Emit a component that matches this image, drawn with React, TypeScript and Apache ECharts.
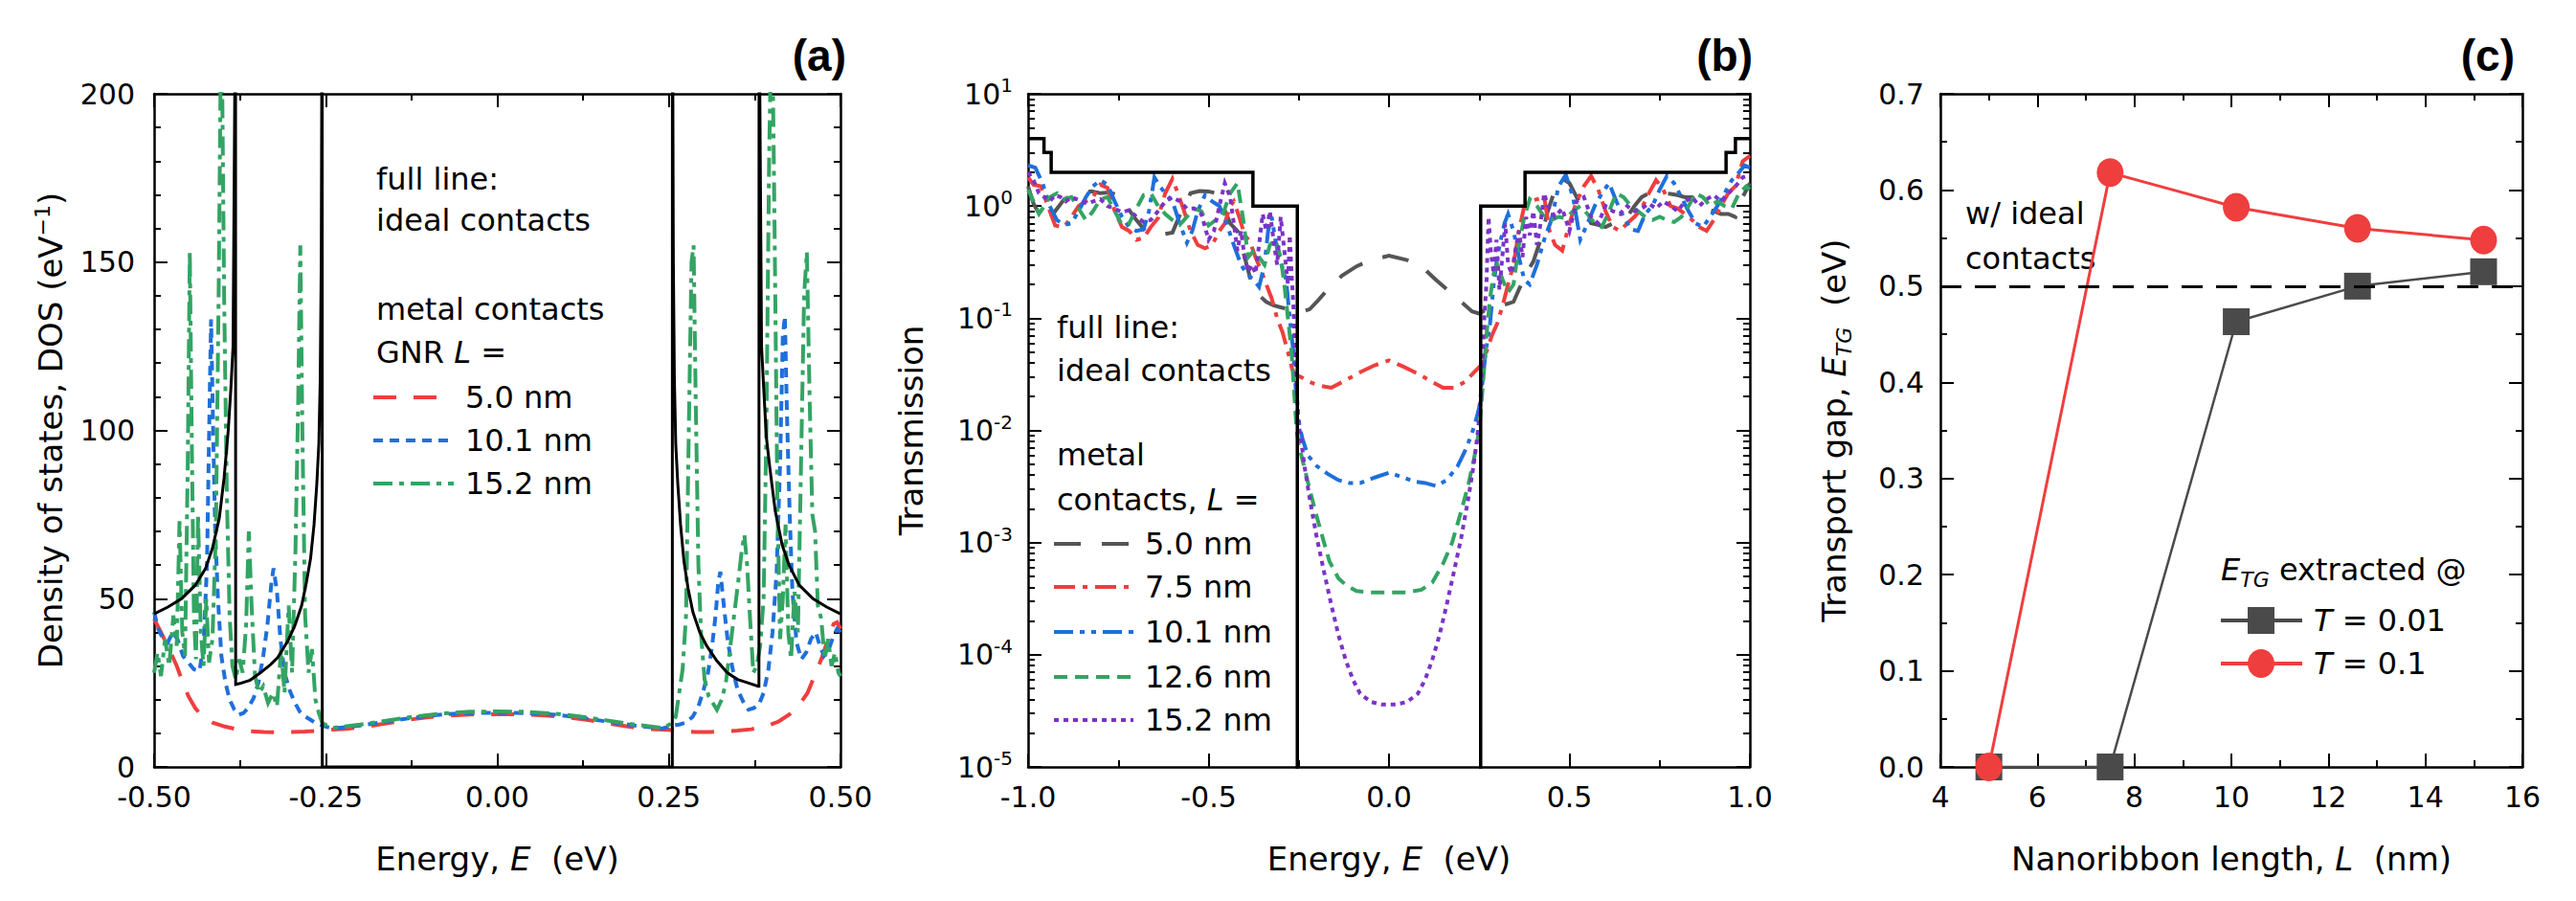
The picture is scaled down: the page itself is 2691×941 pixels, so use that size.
import React, { useEffect, useRef } from "react";
import * as echarts from "echarts";

const FONT = '"DejaVu Sans", "Liberation Sans", sans-serif';
const BOLD_FONT = '"Liberation Sans", Arial, sans-serif';

// ---------------- Panel (a): DOS vs energy ----------------
const aIdeal: [number, number][] = [
  [-0.5, 45.5], [-0.48, 47.5], [-0.46, 50], [-0.44, 54], [-0.425, 59], [-0.415, 65], [-0.405, 74], [-0.398, 86],
  [-0.392, 100], [-0.388, 113], [-0.385, 125], [-0.3825, 200], [-0.3815, 400], [-0.3812, 24.5],
  [-0.375, 24.8], [-0.36, 25.8], [-0.345, 28], [-0.33, 30.5], [-0.32, 32.5], [-0.305, 37.5], [-0.295, 42],
  [-0.285, 48], [-0.278, 55], [-0.272, 62], [-0.267, 72], [-0.263, 84], [-0.26, 96], [-0.258, 115],
  [-0.2565, 150], [-0.2555, 220], [-0.2552, 400], [-0.255, 0],
  [0.255, 0], [0.2552, 400], [0.2555, 220], [0.2565, 150], [0.258, 115], [0.26, 96], [0.263, 84], [0.267, 72],
  [0.272, 61], [0.278, 53], [0.285, 46], [0.295, 40], [0.305, 36], [0.32, 31.5], [0.335, 28], [0.35, 26],
  [0.365, 25], [0.38, 24], [0.3812, 24], [0.3815, 400], [0.3825, 200], [0.385, 125], [0.388, 113],
  [0.392, 98], [0.397, 89], [0.405, 76], [0.415, 66], [0.425, 60], [0.44, 54], [0.46, 50], [0.48, 47.5], [0.5, 45.5],
];

const aRed5: [number, number][] = [
  [-0.5, 44], [-0.49, 40], [-0.478, 35], [-0.467, 30], [-0.458, 25], [-0.45, 21], [-0.44, 17.5], [-0.43, 15],
  [-0.415, 13.2], [-0.397, 12], [-0.38, 11.2], [-0.36, 10.6], [-0.34, 10.4], [-0.32, 10.3], [-0.3, 10.4],
  [-0.28, 10.5], [-0.265, 10.7], [-0.25, 11],
  [-0.22, 11.3], [-0.19, 12], [-0.16, 13], [-0.13, 14], [-0.1, 14.8], [-0.07, 15.3], [-0.04, 15.6], [0, 15.7],
  [0.04, 15.6], [0.07, 15.3], [0.1, 14.8], [0.13, 14], [0.16, 13], [0.19, 12], [0.22, 11.3],
  [0.25, 11], [0.27, 10.6], [0.29, 10.4], [0.31, 10.4], [0.33, 10.5], [0.35, 10.8], [0.37, 11.2], [0.39, 12],
  [0.41, 13.5], [0.425, 15.5], [0.44, 18.5], [0.452, 22], [0.462, 27], [0.472, 32], [0.482, 38], [0.49, 42.5],
  [0.495, 43], [0.5, 41],
];

const aBlue10: [number, number][] = [
  [-0.5, 46], [-0.494, 41], [-0.487, 38], [-0.48, 37], [-0.473, 40], [-0.466, 38], [-0.458, 33], [-0.45, 31],
  [-0.442, 29], [-0.434, 28.5], [-0.428, 36], [-0.423, 60], [-0.419, 110], [-0.417, 133], [-0.414, 100],
  [-0.411, 70], [-0.407, 50], [-0.402, 33], [-0.396, 25], [-0.39, 20], [-0.383, 17], [-0.377, 15.5],
  [-0.37, 16], [-0.363, 17.5], [-0.355, 20.5], [-0.348, 25], [-0.341, 33], [-0.335, 42], [-0.329, 55],
  [-0.326, 59], [-0.321, 52], [-0.316, 38], [-0.31, 28], [-0.303, 23], [-0.296, 19.5], [-0.288, 16.5],
  [-0.28, 15], [-0.272, 14], [-0.264, 13], [-0.255, 12.3],
  [-0.24, 11.4], [-0.2, 12.3], [-0.16, 13.5], [-0.12, 14.7], [-0.08, 15.6], [-0.04, 16], [0, 16.1],
  [0.04, 16], [0.08, 15.6], [0.12, 14.7], [0.16, 13.5], [0.2, 12.3], [0.24, 11.4],
  [0.255, 12.3], [0.265, 12.6], [0.275, 13.2], [0.285, 15], [0.293, 18], [0.3, 22.5], [0.307, 28],
  [0.313, 36], [0.318, 45], [0.322, 55], [0.325, 58], [0.33, 48], [0.336, 37], [0.343, 29], [0.35, 23],
  [0.358, 19.5], [0.366, 17], [0.374, 17.5], [0.381, 18.5], [0.388, 22], [0.395, 29], [0.401, 40],
  [0.407, 58], [0.412, 90], [0.416, 128], [0.419, 134], [0.422, 105], [0.426, 75], [0.43, 52], [0.436, 37],
  [0.443, 32], [0.45, 34], [0.457, 38], [0.464, 40], [0.47, 36], [0.476, 33], [0.483, 35], [0.49, 39],
  [0.495, 41], [0.5, 40],
];

const aGreen15: [number, number][] = [
  [-0.5, 28], [-0.495, 34], [-0.49, 27], [-0.484, 38], [-0.478, 30], [-0.472, 45], [-0.467, 36], [-0.463, 73],
  [-0.459, 40], [-0.455, 33], [-0.451, 90], [-0.448, 153], [-0.445, 95], [-0.442, 45], [-0.439, 32],
  [-0.436, 75], [-0.432, 40], [-0.428, 30], [-0.424, 50], [-0.42, 31], [-0.415, 38], [-0.41, 70],
  [-0.406, 140], [-0.402, 230], [-0.398, 140], [-0.394, 80], [-0.39, 45], [-0.386, 30], [-0.381, 26],
  [-0.376, 32], [-0.371, 28], [-0.366, 42], [-0.362, 70], [-0.358, 48], [-0.353, 27], [-0.347, 22],
  [-0.341, 24], [-0.334, 19], [-0.327, 22], [-0.321, 18], [-0.315, 35], [-0.31, 22], [-0.304, 48],
  [-0.299, 28], [-0.294, 65], [-0.29, 110], [-0.287, 155], [-0.284, 100], [-0.28, 45], [-0.275, 28],
  [-0.27, 35], [-0.265, 20], [-0.26, 16], [-0.255, 13],
  [-0.24, 11.6], [-0.2, 12.6], [-0.16, 13.8], [-0.12, 15], [-0.08, 15.9], [-0.04, 16.4], [0, 16.5],
  [0.04, 16.4], [0.08, 15.9], [0.12, 15], [0.16, 13.8], [0.2, 12.6], [0.24, 11.6],
  [0.255, 13], [0.26, 15], [0.265, 22], [0.27, 29], [0.275, 45], [0.279, 100], [0.283, 150], [0.286, 155],
  [0.289, 110], [0.293, 60], [0.297, 39], [0.302, 26], [0.308, 21], [0.314, 19], [0.32, 17], [0.327, 20],
  [0.333, 25], [0.339, 35], [0.345, 45], [0.351, 55], [0.356, 64], [0.36, 69], [0.364, 60], [0.368, 45],
  [0.373, 28], [0.378, 30], [0.383, 36], [0.388, 50], [0.392, 100], [0.396, 180], [0.4, 230], [0.404, 160],
  [0.408, 80], [0.412, 38], [0.416, 50], [0.42, 72], [0.424, 40], [0.428, 32], [0.433, 52], [0.438, 40],
  [0.442, 84], [0.447, 140], [0.451, 153], [0.455, 110], [0.459, 75], [0.463, 70], [0.467, 48], [0.472, 44],
  [0.477, 32], [0.482, 38], [0.487, 30], [0.492, 34], [0.497, 28], [0.5, 27],
];

// ---------------- Panel (b): transmission vs energy ----------------
const bIdeal: [number, number][] = [
  [-1.0, 4], [-0.956, 4], [-0.956, 3], [-0.936, 3], [-0.936, 2], [-0.377, 2], [-0.377, 1], [-0.254, 1],
  [-0.254, 1e-7], [0.254, 1e-7], [0.254, 1], [0.377, 1], [0.377, 2], [0.934, 2], [0.934, 3], [0.96, 3],
  [0.96, 4], [1.0, 4],
];

const bGrey5: [number, number][] = [
  [-1.0, 1.5], [-0.985, 1.05], [-0.965, 0.8], [-0.945, 0.72], [-0.925, 0.9], [-0.9, 1.15], [-0.875, 1.25],
  [-0.85, 1.32], [-0.825, 1.35], [-0.8, 1.3], [-0.775, 1.32], [-0.75, 1.25], [-0.725, 0.97], [-0.7, 0.75],
  [-0.675, 0.6], [-0.65, 0.57], [-0.625, 0.56], [-0.6, 0.58], [-0.575, 0.9], [-0.55, 1.3], [-0.525, 1.36],
  [-0.5, 1.35], [-0.48, 1.3], [-0.46, 1.0], [-0.44, 0.7], [-0.42, 0.6], [-0.4, 0.35], [-0.38, 0.2],
  [-0.36, 0.16], [-0.34, 0.14], [-0.32, 0.13], [-0.3, 0.125], [-0.28, 0.12], [-0.26, 0.118],
  [-0.24, 0.115], [-0.22, 0.12], [-0.2, 0.14], [-0.17, 0.18], [-0.13, 0.24], [-0.09, 0.29], [-0.05, 0.33],
  [0, 0.36], [0.05, 0.33], [0.09, 0.29], [0.13, 0.22], [0.17, 0.17], [0.2, 0.14], [0.23, 0.115], [0.25, 0.11],
  [0.27, 0.12], [0.29, 0.125], [0.31, 0.13], [0.33, 0.135], [0.345, 0.14], [0.36, 0.18], [0.38, 0.25],
  [0.4, 0.32], [0.42, 0.5], [0.44, 0.9], [0.46, 1.4], [0.48, 1.75], [0.5, 1.6], [0.52, 1.2], [0.54, 0.9],
  [0.56, 0.7], [0.58, 0.68], [0.6, 0.65], [0.62, 0.7], [0.64, 0.75], [0.66, 0.8], [0.68, 1.0], [0.7, 1.2],
  [0.72, 1.3], [0.74, 1.3], [0.76, 1.3], [0.78, 1.28], [0.8, 1.25], [0.82, 1.2], [0.84, 1.2], [0.86, 1.05],
  [0.88, 0.95], [0.9, 0.9], [0.92, 0.85], [0.94, 0.85], [0.96, 0.8], [0.98, 1.2], [1.0, 1.6],
];

const bRed75: [number, number][] = [
  [-1.0, 1.8], [-0.985, 1.55], [-0.965, 1.5], [-0.945, 1.0], [-0.925, 0.67], [-0.9, 0.65], [-0.88, 0.8],
  [-0.86, 1.0], [-0.84, 1.1], [-0.82, 1.2], [-0.8, 1.55], [-0.78, 1.45], [-0.76, 0.9], [-0.74, 0.65],
  [-0.72, 0.6], [-0.7, 0.5], [-0.68, 0.52], [-0.66, 0.65], [-0.64, 0.78], [-0.62, 1.3], [-0.6, 1.75],
  [-0.585, 1.3], [-0.57, 0.95], [-0.55, 0.6], [-0.53, 0.45], [-0.51, 0.42], [-0.49, 0.45], [-0.47, 0.6],
  [-0.455, 0.7], [-0.44, 1.0], [-0.43, 1.1], [-0.415, 0.8], [-0.4, 0.55], [-0.385, 0.48], [-0.37, 0.35],
  [-0.355, 0.27], [-0.34, 0.2], [-0.325, 0.15], [-0.31, 0.1], [-0.295, 0.075], [-0.28, 0.05], [-0.268, 0.035],
  [-0.258, 0.031], [-0.245, 0.03], [-0.22, 0.027], [-0.19, 0.025], [-0.16, 0.024], [-0.12, 0.028],
  [-0.08, 0.033], [-0.04, 0.038], [0, 0.042], [0.04, 0.037], [0.08, 0.032], [0.12, 0.027], [0.15, 0.024],
  [0.18, 0.024], [0.21, 0.027], [0.24, 0.034], [0.255, 0.038],
  [0.27, 0.05], [0.285, 0.07], [0.3, 0.09], [0.315, 0.13], [0.33, 0.2], [0.345, 0.3], [0.36, 0.6],
  [0.375, 1.0], [0.39, 1.1], [0.41, 1.15], [0.43, 1.2], [0.445, 0.6], [0.46, 0.45], [0.48, 0.4], [0.5, 0.7],
  [0.52, 1.1], [0.54, 1.5], [0.56, 1.85], [0.58, 1.4], [0.6, 0.9], [0.62, 0.65], [0.64, 0.6], [0.66, 0.7],
  [0.68, 0.8], [0.7, 0.95], [0.72, 1.3], [0.74, 1.7], [0.76, 1.4], [0.78, 1.0], [0.8, 0.95], [0.82, 0.85],
  [0.84, 0.75], [0.86, 0.65], [0.88, 0.6], [0.9, 0.75], [0.92, 1.0], [0.94, 1.3], [0.96, 1.5], [0.98, 2.5],
  [1.0, 2.8],
];

const bBlue101: [number, number][] = [
  [-1.0, 2.3], [-0.98, 2.2], [-0.96, 1.6], [-0.94, 1.0], [-0.92, 0.75], [-0.9, 0.68], [-0.88, 0.7],
  [-0.86, 0.9], [-0.84, 1.2], [-0.82, 1.5], [-0.8, 1.7], [-0.78, 1.55], [-0.76, 1.1], [-0.74, 0.8],
  [-0.72, 0.65], [-0.7, 0.6], [-0.68, 0.62], [-0.665, 0.9], [-0.65, 1.8], [-0.635, 1.5], [-0.62, 1.3],
  [-0.6, 1.1], [-0.58, 0.7], [-0.56, 0.47], [-0.545, 0.6], [-0.53, 0.9], [-0.51, 1.25], [-0.49, 1.1],
  [-0.47, 1.0], [-0.45, 0.7], [-0.43, 0.45], [-0.41, 0.3], [-0.395, 0.25], [-0.375, 0.22], [-0.36, 0.19],
  [-0.345, 0.3], [-0.335, 0.6], [-0.325, 0.8], [-0.315, 0.5], [-0.305, 0.35], [-0.295, 0.28], [-0.285, 0.22],
  [-0.275, 0.1], [-0.265, 0.05], [-0.257, 0.02],
  [-0.248, 0.011], [-0.24, 0.0085], [-0.225, 0.006], [-0.2, 0.0048], [-0.17, 0.0041], [-0.14, 0.0036],
  [-0.11, 0.0034], [-0.08, 0.0034], [-0.04, 0.0038], [0, 0.0042], [0.04, 0.0038], [0.07, 0.0035],
  [0.1, 0.0034], [0.13, 0.0032], [0.16, 0.0036], [0.19, 0.0048], [0.21, 0.0065], [0.228, 0.009],
  [0.24, 0.012], [0.25, 0.016],
  [0.258, 0.025], [0.268, 0.05], [0.28, 0.09], [0.29, 0.2], [0.3, 0.35], [0.31, 0.5], [0.32, 0.7],
  [0.33, 0.85], [0.345, 0.6], [0.36, 0.35], [0.375, 0.22], [0.39, 0.2], [0.41, 0.3], [0.43, 0.5],
  [0.45, 0.75], [0.47, 1.5], [0.49, 1.9], [0.51, 1.2], [0.53, 0.5], [0.55, 0.7], [0.57, 1.0], [0.59, 1.3],
  [0.61, 1.6], [0.63, 1.1], [0.65, 0.8], [0.67, 0.62], [0.69, 0.6], [0.71, 0.85], [0.73, 1.0], [0.75, 1.4],
  [0.77, 1.85], [0.79, 1.6], [0.81, 1.2], [0.83, 0.9], [0.85, 0.7], [0.87, 0.65], [0.89, 0.8], [0.91, 1.0],
  [0.93, 1.3], [0.95, 1.7], [0.97, 2.0], [0.985, 2.3], [1.0, 2.2],
];

const bGreen126: [number, number][] = [
  [-1.0, 1.4], [-0.985, 1.1], [-0.97, 0.85], [-0.955, 1.0], [-0.94, 1.2], [-0.92, 1.3], [-0.9, 1.15],
  [-0.88, 1.2], [-0.86, 0.95], [-0.84, 0.75], [-0.82, 0.9], [-0.8, 1.15], [-0.78, 1.2], [-0.76, 0.9],
  [-0.74, 0.68], [-0.72, 0.7], [-0.7, 0.95], [-0.68, 1.25], [-0.66, 1.3], [-0.64, 1.0], [-0.62, 0.85],
  [-0.6, 0.75], [-0.58, 0.68], [-0.56, 0.8], [-0.54, 0.95], [-0.52, 0.9], [-0.5, 0.67], [-0.48, 0.75],
  [-0.46, 0.85], [-0.44, 1.3], [-0.42, 1.6], [-0.405, 0.8], [-0.39, 0.35], [-0.375, 0.4], [-0.36, 0.35],
  [-0.345, 0.3], [-0.33, 0.45], [-0.315, 0.5], [-0.3, 0.35], [-0.29, 0.2], [-0.28, 0.1], [-0.27, 0.05],
  [-0.262, 0.02], [-0.256, 0.01],
  [-0.25, 0.0075], [-0.24, 0.0055], [-0.22, 0.003], [-0.2, 0.0017], [-0.18, 0.001], [-0.165, 0.00068],
  [-0.14, 0.00048], [-0.12, 0.00042], [-0.09, 0.00037], [-0.05, 0.00036], [0, 0.00036], [0.05, 0.00036],
  [0.09, 0.00038], [0.12, 0.00044], [0.15, 0.00065], [0.175, 0.001], [0.2, 0.0019], [0.22, 0.0033],
  [0.235, 0.0055], [0.245, 0.008], [0.252, 0.012],
  [0.26, 0.025], [0.27, 0.07], [0.28, 0.15], [0.29, 0.25], [0.3, 0.3], [0.315, 0.22], [0.33, 0.17],
  [0.345, 0.2], [0.36, 0.45], [0.375, 0.8], [0.39, 1.15], [0.41, 1.0], [0.43, 0.8], [0.45, 0.75],
  [0.47, 0.8], [0.49, 0.78], [0.51, 0.9], [0.53, 1.0], [0.55, 0.85], [0.57, 0.7], [0.59, 0.65], [0.61, 0.9],
  [0.63, 1.3], [0.65, 1.2], [0.67, 1.0], [0.69, 0.9], [0.71, 0.8], [0.73, 0.75], [0.75, 0.8], [0.77, 0.75],
  [0.79, 0.72], [0.81, 0.8], [0.83, 1.0], [0.85, 1.3], [0.87, 1.2], [0.89, 1.0], [0.91, 1.1], [0.93, 1.0],
  [0.95, 0.95], [0.97, 1.3], [0.99, 1.5], [1.0, 1.4],
];

const bPurple152: [number, number][] = [
  [-1.0, 2.0], [-0.985, 1.7], [-0.97, 1.3], [-0.955, 1.2], [-0.94, 1.1], [-0.925, 1.25], [-0.91, 1.2],
  [-0.895, 1.1], [-0.88, 1.2], [-0.865, 1.15], [-0.85, 1.1], [-0.835, 1.05], [-0.82, 1.1], [-0.8, 1.15],
  [-0.78, 1.0], [-0.76, 0.95], [-0.74, 0.88], [-0.72, 0.92], [-0.7, 0.8], [-0.68, 0.72], [-0.66, 0.75],
  [-0.64, 0.9], [-0.62, 1.1], [-0.6, 1.2], [-0.58, 1.1], [-0.56, 0.95], [-0.54, 0.95], [-0.52, 0.85],
  [-0.5, 0.5], [-0.485, 0.6], [-0.47, 1.0], [-0.455, 1.6], [-0.44, 1.2], [-0.43, 0.7], [-0.42, 0.4],
  [-0.41, 0.6], [-0.4, 0.35], [-0.39, 0.26], [-0.38, 0.3], [-0.37, 0.25], [-0.36, 0.45], [-0.35, 0.85],
  [-0.34, 0.6], [-0.33, 0.9], [-0.32, 0.5], [-0.31, 0.3], [-0.3, 0.8], [-0.29, 0.4], [-0.28, 0.2],
  [-0.275, 0.55], [-0.27, 0.25], [-0.265, 0.13], [-0.26, 0.05], [-0.255, 0.02],
  [-0.25, 0.011], [-0.245, 0.009], [-0.235, 0.005], [-0.22, 0.0025], [-0.2, 0.0011], [-0.18, 0.00055],
  [-0.16, 0.00028], [-0.14, 0.00015], [-0.12, 0.00009], [-0.1, 0.00006], [-0.08, 0.000045],
  [-0.05, 0.000038], [-0.02, 0.000036], [0, 0.000036], [0.02, 0.000036], [0.05, 0.000038],
  [0.08, 0.000045], [0.1, 0.00006], [0.12, 0.00009], [0.14, 0.00015], [0.16, 0.00028], [0.18, 0.00055],
  [0.2, 0.0011], [0.22, 0.0025], [0.235, 0.005], [0.245, 0.009], [0.252, 0.015],
  [0.258, 0.035], [0.264, 0.1], [0.27, 0.2], [0.276, 0.8], [0.282, 0.4], [0.29, 0.25], [0.298, 0.5],
  [0.306, 0.18], [0.314, 0.35], [0.322, 0.7], [0.33, 0.3], [0.34, 0.25], [0.35, 0.4], [0.36, 0.6],
  [0.37, 0.35], [0.38, 0.8], [0.39, 0.55], [0.4, 0.9], [0.41, 0.45], [0.42, 0.7], [0.43, 1.3], [0.44, 1.0],
  [0.46, 0.8], [0.48, 0.95], [0.5, 0.6], [0.52, 1.1], [0.54, 1.2], [0.56, 0.8], [0.58, 0.7], [0.6, 1.0],
  [0.62, 0.9], [0.64, 0.85], [0.66, 1.0], [0.68, 0.9], [0.7, 0.95], [0.72, 1.05], [0.74, 0.95], [0.76, 1.1],
  [0.78, 1.0], [0.8, 0.9], [0.82, 1.1], [0.84, 1.2], [0.86, 1.0], [0.88, 1.15], [0.9, 1.25], [0.92, 1.1],
  [0.94, 1.3], [0.96, 1.5], [0.98, 1.8], [1.0, 1.9],
];

const bDecades = [1e-5, 1e-4, 1e-3, 1e-2, 1e-1, 1, 10];
const bDecadeExps = ["-5", "-4", "-3", "-2", "-1", "0", "1"];
const bMinorMultipliers = [2, 3, 4, 5, 6, 7, 8, 9];

// ---------------- Panel (c): transport gap vs length ----------------
const cLength = [5.0, 7.5, 10.1, 12.6, 15.2];
const cGapT001 = [0, 0, 0.463, 0.5, 0.515];
const cGapT01 = [0, 0.618, 0.582, 0.56, 0.548];
const cIdealGap = 0.5;

// ---------------- styling ----------------
const RED = "#EF3E3E";
const BLUE = "#1F6FDB";
const GREEN = "#33A463";
const GREY = "#555555";
const PURPLE = "#7B33C7";
const CGREY = "#4A4A4A";

const TICK_FS = 30;
const LEG_FS = 32;
const TITLE_FS = 34;

const axisLine = { show: true, onZero: false, lineStyle: { color: "#000", width: 2.5 } };
const axisTick = { show: true, inside: true, length: 14, lineStyle: { color: "#000", width: 2 } };
const minorTick = (n: number) => ({ show: true, splitNumber: n, length: 7, lineStyle: { color: "#000", width: 2 } });
const labelBase = { fontSize: TICK_FS, fontFamily: FONT, color: "#000" };
const titleStyle = {
  fontSize: TITLE_FS,
  fontFamily: FONT,
  color: "#000",
  rich: {
    i: { fontSize: TITLE_FS, fontFamily: FONT, fontStyle: "italic", color: "#000" },
    sup: { fontSize: 22, fontFamily: FONT, color: "#000", padding: [0, 0, 18, 0] },
    sub: { fontSize: 22, fontFamily: FONT, fontStyle: "italic", color: "#000", padding: [20, 0, 0, 0] },
  },
};

function valAxis(extra: any) {
  return {
    type: "value",
    axisLine,
    axisTick,
    splitLine: { show: false },
    minorSplitLine: { show: false },
    nameMoveOverlap: false,
    ...extra,
  };
}

const fmt2 = (v: number) => (Math.abs(v) < 1e-9 ? "0.00" : v.toFixed(2));
const fmt1 = (v: number) => (Math.abs(v) < 1e-9 ? "0.0" : v.toFixed(1));
const fmtPow = (v: number) => {
  let best = 0;
  bDecades.forEach((d, i) => {
    if (Math.abs(Math.log10(v) - Math.log10(d)) < Math.abs(Math.log10(v) - Math.log10(bDecades[best]))) best = i;
  });
  return `{b|10}{s|${bDecadeExps[best]}}`;
};

function lineSeries(name: string, data: any, color: string, width: number, type: any, xi: number, yi: number) {
  return {
    type: "line",
    name,
    data,
    xAxisIndex: xi,
    yAxisIndex: yi,
    symbol: "none",
    showSymbol: false,
    lineStyle: { color, width, type, cap: "butt", join: "miter" },
    itemStyle: { color },
    clip: true,
    silent: true,
    animation: false,
  };
}

function txt(x: number, y: number, text: string, extra: any = {}) {
  return {
    type: "text",
    x,
    y,
    silent: true,
    style: {
      text,
      fontSize: LEG_FS,
      fontFamily: FONT,
      fill: "#000",
      align: "left",
      verticalAlign: "middle",
      rich: {
        i: { fontSize: LEG_FS, fontFamily: FONT, fontStyle: "italic", fill: "#000" },
        sub: { fontSize: 22, fontFamily: FONT, fontStyle: "italic", fill: "#000", padding: [20, 0, 0, 0] },
      },
      ...extra,
    },
  };
}

function sample(x1: number, x2: number, y: number, color: string, dash: any) {
  return {
    type: "line",
    silent: true,
    shape: { x1, y1: y, x2, y2: y },
    style: { stroke: color, lineWidth: 4, lineDash: dash, lineCap: "butt" },
  };
}

const DASH_A_RED = [24, 18];
const DASH_A_BLUE = [10, 7];
const DASH_A_GREEN = [20, 7, 5, 7];
const DASH_B_GREY = [28, 22];
const DASH_B_RED = [22, 8, 5, 8];
const DASH_B_BLUE = [20, 7, 5, 7, 5, 7];
const DASH_B_GREEN = [14, 8];
const DASH_B_PURPLE = [5, 5];

export default function App() {
  const ref = useRef<HTMLDivElement>(null);

  useEffect(() => {
    if (!ref.current) return;
    const chart = echarts.init(ref.current, null, { renderer: "svg" });

    const bMinorVals: number[] = [];
    bDecades.slice(0, -1).forEach((d) => bMinorMultipliers.forEach((m) => bMinorVals.push(m * d)));

    const logAxis = (position: string, showLabel: boolean, minor: boolean) => ({
      type: "log",
      gridIndex: 1,
      position,
      min: 1e-5,
      max: 10,
      logBase: 10,
      axisLine: minor ? { show: false, onZero: false } : axisLine,
      axisTick: minor
        ? { show: true, inside: true, length: 7, lineStyle: { color: "#000", width: 2 }, customValues: bMinorVals }
        : { ...axisTick, customValues: bDecades },
      axisLabel: showLabel
        ? {
            show: true,
            margin: 16,
            customValues: bDecades,
            formatter: fmtPow,
            ...labelBase,
            rich: {
              b: { fontSize: TICK_FS, fontFamily: FONT, color: "#000" },
              s: { fontSize: 20, fontFamily: FONT, color: "#000", padding: [0, 0, 18, 0] },
            },
          }
        : { show: false },
      splitLine: { show: false },
      nameMoveOverlap: false,
      ...(showLabel
        ? { name: "Transmission", nameLocation: "middle", nameGap: 105, nameTextStyle: titleStyle }
        : {}),
    });

    const option: any = {
      animation: false,
      backgroundColor: "#fff",
      grid: [
        { left: 161, top: 98, width: 717, height: 703, containLabel: false, outerBoundsMode: "none" },
        { left: 1074, top: 98, width: 754, height: 703, containLabel: false, outerBoundsMode: "none" },
        { left: 2027, top: 98, width: 608, height: 703, containLabel: false, outerBoundsMode: "none" },
      ],
      xAxis: [
        valAxis({
          gridIndex: 0, position: "bottom", min: -0.5, max: 0.5, interval: 0.25,
          minorTick: minorTick(2),
          axisLabel: { show: true, margin: 16, formatter: fmt2, ...labelBase },
          name: "Energy, {i|E}  (eV)", nameLocation: "middle", nameGap: 79, nameTextStyle: titleStyle,
        }),
        valAxis({
          gridIndex: 0, position: "top", min: -0.5, max: 0.5, interval: 0.25,
          minorTick: minorTick(2), axisLabel: { show: false },
        }),
        valAxis({
          gridIndex: 1, position: "bottom", min: -1, max: 1, interval: 0.5,
          minorTick: minorTick(2),
          axisLabel: { show: true, margin: 16, formatter: fmt1, ...labelBase },
          name: "Energy, {i|E}  (eV)", nameLocation: "middle", nameGap: 79, nameTextStyle: titleStyle,
        }),
        valAxis({
          gridIndex: 1, position: "top", min: -1, max: 1, interval: 0.5,
          minorTick: minorTick(2), axisLabel: { show: false },
        }),
        valAxis({
          gridIndex: 2, position: "bottom", min: 4, max: 16, interval: 2,
          minorTick: minorTick(2),
          axisLabel: { show: true, margin: 16, ...labelBase },
          name: "Nanoribbon length, {i|L}  (nm)", nameLocation: "middle", nameGap: 79, nameTextStyle: titleStyle,
        }),
        valAxis({
          gridIndex: 2, position: "top", min: 4, max: 16, interval: 2,
          minorTick: minorTick(2), axisLabel: { show: false },
        }),
      ],
      yAxis: [
        valAxis({
          gridIndex: 0, position: "left", min: 0, max: 200, interval: 50,
          minorTick: minorTick(5),
          axisLabel: { show: true, margin: 20, ...labelBase },
          name: "Density of states, DOS (eV{sup|−1})", nameLocation: "middle", nameGap: 88, nameTextStyle: titleStyle,
        }),
        valAxis({
          gridIndex: 0, position: "right", min: 0, max: 200, interval: 50,
          minorTick: minorTick(5), axisLabel: { show: false },
        }),
        logAxis("left", true, false),
        logAxis("left", false, true),
        logAxis("right", false, false),
        logAxis("right", false, true),
        valAxis({
          gridIndex: 2, position: "left", min: 0, max: 0.7, interval: 0.1,
          minorTick: minorTick(2),
          axisLabel: { show: true, margin: 17, formatter: fmt1, ...labelBase },
          name: "Transport gap, {i|E}{sub|TG}  (eV)", nameLocation: "middle", nameGap: 90, nameTextStyle: titleStyle,
        }),
        valAxis({
          gridIndex: 2, position: "right", min: 0, max: 0.7, interval: 0.1,
          minorTick: minorTick(2), axisLabel: { show: false },
        }),
      ],
      series: [
        // (a)
        lineSeries("a 5.0 nm", aRed5, RED, 4, DASH_A_RED, 0, 0),
        lineSeries("a 10.1 nm", aBlue10, BLUE, 4, DASH_A_BLUE, 0, 0),
        lineSeries("a 15.2 nm", aGreen15, GREEN, 4, DASH_A_GREEN, 0, 0),
        lineSeries("a ideal", aIdeal, "#000", 3, "solid", 0, 0),
        // (b)
        lineSeries("b 5.0 nm", bGrey5, GREY, 4, DASH_B_GREY, 2, 2),
        lineSeries("b 7.5 nm", bRed75, RED, 4, DASH_B_RED, 2, 2),
        lineSeries("b 10.1 nm", bBlue101, BLUE, 4, DASH_B_BLUE, 2, 2),
        lineSeries("b 12.6 nm", bGreen126, GREEN, 4, DASH_B_GREEN, 2, 2),
        lineSeries("b 15.2 nm", bPurple152, PURPLE, 4, DASH_B_PURPLE, 2, 2),
        lineSeries("b ideal", bIdeal, "#000", 3.5, "solid", 2, 2),
        // (c)
        {
          type: "line",
          name: "T = 0.01",
          xAxisIndex: 4,
          yAxisIndex: 6,
          data: cLength.map((l, i) => [l, cGapT001[i]]),
          symbol: "rect",
          symbolSize: 28,
          showSymbol: true,
          lineStyle: { color: CGREY, width: 2.5 },
          itemStyle: { color: CGREY },
          clip: false,
          silent: true,
          markLine: {
            silent: true,
            symbol: "none",
            label: { show: false },
            lineStyle: { color: "#000", width: 3, type: [22, 14] },
            data: [{ yAxis: cIdealGap }],
          },
        },
        {
          type: "line",
          name: "T = 0.1",
          xAxisIndex: 4,
          yAxisIndex: 6,
          data: cLength.map((l, i) => [l, cGapT01[i]]),
          symbol: "circle",
          symbolSize: [28, 30],
          showSymbol: true,
          lineStyle: { color: RED, width: 3 },
          itemStyle: { color: RED },
          clip: false,
          silent: true,
        },
      ],
      graphic: [
        // panel labels
        { type: "text", x: 884, y: 58, silent: true, style: { text: "(a)", fontSize: 46, fontWeight: "bold", fontFamily: BOLD_FONT, fill: "#000", align: "right", verticalAlign: "middle" } },
        { type: "text", x: 1831, y: 58, silent: true, style: { text: "(b)", fontSize: 46, fontWeight: "bold", fontFamily: BOLD_FONT, fill: "#000", align: "right", verticalAlign: "middle" } },
        { type: "text", x: 2627, y: 58, silent: true, style: { text: "(c)", fontSize: 46, fontWeight: "bold", fontFamily: BOLD_FONT, fill: "#000", align: "right", verticalAlign: "middle" } },
        // (a) legend
        txt(393, 187, "full line:"),
        txt(393, 230, "ideal contacts"),
        txt(393, 323, "metal contacts"),
        txt(393, 368, "GNR {i|L} ="),
        sample(390, 474, 415, RED, DASH_A_RED),
        txt(486, 415, "5.0 nm"),
        sample(390, 474, 460, BLUE, DASH_A_BLUE),
        txt(486, 460, "10.1 nm"),
        sample(390, 474, 505, GREEN, DASH_A_GREEN),
        txt(486, 505, "15.2 nm"),
        // (b) legend
        txt(1104, 342, "full line:"),
        txt(1104, 387, "ideal contacts"),
        txt(1104, 475, "metal"),
        txt(1104, 522, "contacts, {i|L} ="),
        sample(1101, 1184, 568, GREY, DASH_B_GREY),
        txt(1196, 568, "5.0 nm"),
        sample(1101, 1184, 613, RED, DASH_B_RED),
        txt(1196, 613, "7.5 nm"),
        sample(1101, 1184, 660, BLUE, DASH_B_BLUE),
        txt(1196, 660, "10.1 nm"),
        sample(1101, 1184, 707, GREEN, DASH_B_GREEN),
        txt(1196, 707, "12.6 nm"),
        sample(1101, 1184, 752, PURPLE, DASH_B_PURPLE),
        txt(1196, 752, "15.2 nm"),
        // (c) annotations & legend
        txt(2053, 223, "w/ ideal"),
        txt(2053, 270, "contacts"),
        txt(2320, 595, "{i|E}{sub|TG} extracted @"),
        sample(2320, 2405, 648, CGREY, null),
        { type: "rect", silent: true, shape: { x: 2348, y: 634, width: 28, height: 28 }, style: { fill: CGREY } },
        txt(2417, 648, "{i|T} = 0.01"),
        sample(2320, 2405, 693, RED, null),
        { type: "ellipse", silent: true, shape: { cx: 2362, cy: 693, rx: 14, ry: 15 }, style: { fill: RED } },
        txt(2417, 693, "{i|T} = 0.1"),
      ],
    };

    chart.setOption(option);
    return () => chart.dispose();
  }, []);

  return (
    <div
      ref={ref}
      style={{ position: "absolute", left: 0, top: 0, width: 2691, height: 941, background: "#fff" }}
    />
  );
}
